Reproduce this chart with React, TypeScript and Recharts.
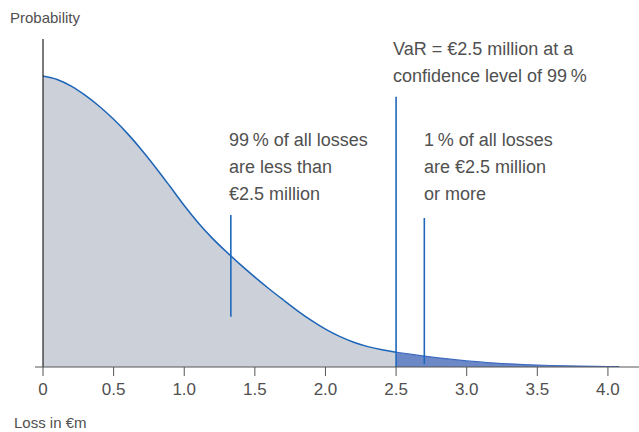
import {
  ComposedChart, Area, XAxis, YAxis, ReferenceLine,
} from 'recharts'

// loss in €m and the (relative) probability density
const lossValues = [
  0, 0.1, 0.2, 0.3, 0.4, 0.5, 0.6, 0.7, 0.8, 0.9, 1.0, 1.1, 1.2, 1.3, 1.4, 1.5, 1.6, 1.7, 1.8, 1.9,
  2.0, 2.1, 2.2, 2.3, 2.4, 2.5, 2.6, 2.7, 2.8, 2.9, 3.0, 3.2, 3.4, 3.6, 3.8, 4.0, 4.08,
]
const probabilityValues = [
  1.0, 0.988, 0.965, 0.933, 0.895, 0.851, 0.801, 0.745, 0.684, 0.62, 0.555, 0.495, 0.442, 0.395, 0.351, 0.309, 0.269, 0.231, 0.194, 0.16,
  0.13, 0.105, 0.085, 0.07, 0.059, 0.051, 0.044, 0.0375, 0.0315, 0.026, 0.021, 0.0135, 0.0085, 0.0052, 0.0032, 0.0018, 0.0014,
]
const varThreshold = 2.5
const xTicks = [0, 0.5, 1.0, 1.5, 2.0, 2.5, 3.0, 3.5, 4.0]

// annotation pointer lines (x in €m, y in probability units)
const markerX = [1.33, 2.5, 2.7]
const markerFrom = [0.173, 0, 0.01]
const markerTo = [0.522, 0.929, 0.512]

const textColor = '#505050'
const font = '"Liberation Sans", Arial, sans-serif'

const data = lossValues.map((loss, i) => ({
  loss,
  body: loss <= varThreshold ? probabilityValues[i] : null,
  tail: loss >= varThreshold ? probabilityValues[i] : null,
}))

const noteStyle = {
  position: 'absolute' as const,
  fontFamily: font,
  fontSize: 18,
  lineHeight: '27px',
  color: textColor,
  whiteSpace: 'nowrap' as const,
}

export default function App() {
  return (
    <div style={{ position: 'absolute', left: 0, top: 0, width: 639, height: 432, background: '#fff' }}>
      <ComposedChart
        width={639}
        height={432}
        data={data}
        margin={{ left: 35, right: 0, top: 39, bottom: 25 }}
      >
        <XAxis
          dataKey="loss"
          type="number"
          domain={[-0.0567, 4.22]}
          ticks={xTicks}
          height={40}
          tickFormatter={(v: number) => (v === 0 ? '0' : v.toFixed(1))}
          tickSize={9}
          tickMargin={7}
          stroke="#555"
          tick={{ fill: textColor, fontSize: 17, fontFamily: font }}
          allowDataOverflow
        />
        <YAxis hide domain={[0, 1.127]} allowDataOverflow />
        <Area
          dataKey="body"
          type="monotone"
          fill="#ccd1d9"
          fillOpacity={1}
          stroke="#1c64b8"
          strokeWidth={1.5}
          isAnimationActive={false}
        />
        <Area
          dataKey="tail"
          type="monotone"
          fill="#6c88c7"
          fillOpacity={1}
          stroke="#3f6cc0"
          strokeWidth={1.2}
          isAnimationActive={false}
        />
        <ReferenceLine x={0} stroke="#222" strokeWidth={1.2} />
        {markerX.map((x, i) => (
          <ReferenceLine
            key={i}
            segment={[{ x, y: markerFrom[i] }, { x, y: markerTo[i] }]}
            stroke="#1f68bb"
            strokeWidth={1.6}
          />
        ))}
      </ComposedChart>
      <div style={{ ...noteStyle, left: 10, top: 8, fontSize: 15, lineHeight: '20px' }}>Probability</div>
      <div style={{ ...noteStyle, left: 14, top: 413, fontSize: 15, lineHeight: '20px' }}>Loss in €m</div>
      <div style={{ ...noteStyle, left: 393, top: 36 }}>
        VaR = €2.5 million at a<br />confidence level of 99{'\u202F'}%
      </div>
      <div style={{ ...noteStyle, left: 229, top: 127 }}>
        99{'\u202F'}% of all losses<br />are less than<br />€2.5 million
      </div>
      <div style={{ ...noteStyle, left: 424, top: 127 }}>
        1{'\u202F'}% of all losses<br />are €2.5 million<br />or more
      </div>
    </div>
  )
}
